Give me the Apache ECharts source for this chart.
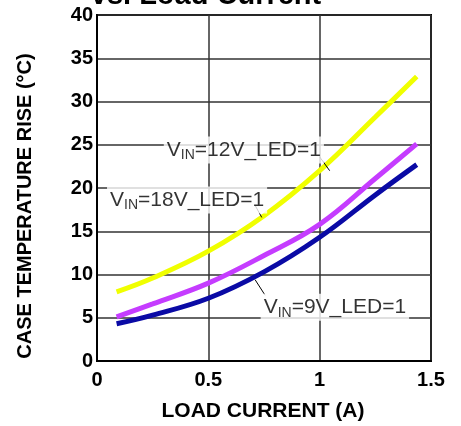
<!DOCTYPE html>
<html><head><meta charset="utf-8">
<script src="https://cdn.jsdelivr.net/npm/echarts@6/dist/echarts.min.js"></script>
<style>html,body{margin:0;padding:0;background:#fff}#c{width:461px;height:426px}</style>
</head><body><div id="c"></div>
<script>
const loadCurrent = [0.088, 0.25, 0.5, 0.75, 1.0, 1.25, 1.436];
const vin12 = [8.0, 9.6, 12.7, 16.8, 22.0, 28.2, 32.9];
const vin18 = [5.1, 6.6, 9.0, 12.2, 15.8, 21.1, 25.1];
const vin9 = [4.3, 5.3, 7.25, 10.3, 14.3, 19.2, 22.7];
const xTicks = [0, 0.5, 1, 1.5];
const yTicks = [0, 5, 10, 15, 20, 25, 30, 35, 40];
const labelNames = ['=12V_LED=1', '=18V_LED=1', '=9V_LED=1'];
const labelPos = [[0.3, 24.4], [0.045, 18.6], [0.735, 6.2]];
const leaders = [[[1.0, 23.6], [1.045, 22.0]], [[0.71, 18.0], [0.74, 16.6]], [[0.71, 9.4], [0.755, 7.6]]];

const font = '"Liberation Sans", Arial, sans-serif';
const chart = echarts.init(document.getElementById('c'));
const zip = (xs, ys) => xs.map((x, i) => [x, ys[i]]);
const curve = (name, ys, color) => ({
  name, type: 'line', data: zip(loadCurrent, ys), smooth: 0.4, symbol: 'none',
  lineStyle: { color, width: 5, cap: 'butt' }, z: 3
});
const rich = {
  v: { fontSize: 21, fontFamily: font, color: '#000', lineHeight: 25 },
  s: { fontSize: 14, fontFamily: font, color: '#000', lineHeight: 25, verticalAlign: 'bottom', padding: [11, 0, 0, 0] }
};
chart.setOption({
  animation: false,
  grid: { left: 97, right: 30, top: 15, bottom: 65, show: true, borderColor: '#000', borderWidth: 2 },
  xAxis: {
    type: 'value', min: 0, max: 1.5, interval: 0.5,
    axisLine: { lineStyle: { color: '#000', width: 2 } },
    axisTick: { show: false },
    splitLine: { lineStyle: { color: '#333', width: 1.5 } },
    axisLabel: { fontFamily: font, fontWeight: 'bold', fontSize: 20, color: '#000', margin: 9,
      formatter: v => xTicks.includes(v) ? String(v) : '' }
  },
  yAxis: {
    type: 'value', min: 0, max: 40, interval: 5,
    axisLine: { lineStyle: { color: '#000', width: 2 } },
    axisTick: { show: false },
    splitLine: { lineStyle: { color: '#333', width: 1.5 } },
    axisLabel: { fontFamily: font, fontWeight: 'bold', fontSize: 20, color: '#000', margin: 4, padding: [8, 0, 0, 0],
      formatter: v => yTicks.includes(v) ? String(v) : '' }
  },
  graphic: [
    { type: 'text', x: 206, y: -4, style: { text: 'vs. Load Current', font: 'bold 29px ' + font, fill: '#000', align: 'center', verticalAlign: 'middle' } },
    { type: 'text', x: 25, y: 206, rotation: Math.PI / 2, style: { text: 'CASE TEMPERATURE RISE (°C)', font: 'bold 20px ' + font, fill: '#000', align: 'center', verticalAlign: 'middle' } },
    { type: 'text', x: 263, y: 411, style: { text: 'LOAD CURRENT (A)', font: 'bold 21px ' + font, fill: '#000', align: 'center', verticalAlign: 'middle' } }
  ],
  series: [
    curve('VIN=12V_LED=1', vin12, '#f0ff00'),
    curve('VIN=18V_LED=1', vin18, '#c53cff'),
    curve('VIN=9V_LED=1', vin9, '#0a0aa5'),
    ...leaders.map(seg => ({ type: 'line', data: seg, symbol: 'none', lineStyle: { color: '#000', width: 1 }, z: 4 })),
    {
      type: 'scatter', symbolSize: 0, z: 5,
      data: labelPos.map((p, i) => ({ value: p, name: labelNames[i] })),
      label: {
        show: true, position: 'right', distance: 0, backgroundColor: '#fff', padding: [1, 3, 1, 3],
        formatter: p => '{v|V}{s|IN}{v|' + p.name + '}', rich
      }
    }
  ]
});
</script></body></html>
